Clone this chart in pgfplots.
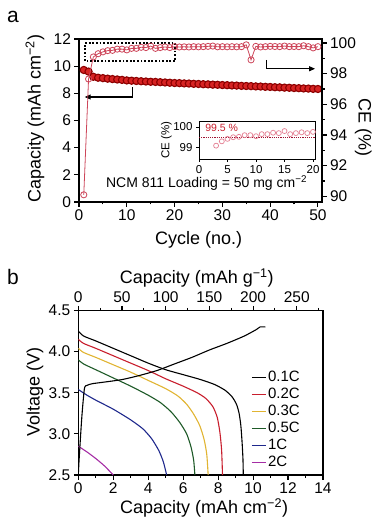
\documentclass[border=0pt]{standalone}
\usepackage{fontspec}
\setmainfont{Liberation Sans}
\usepackage{pgfplots}
\usepackage{pgfplotstable}
\pgfplotsset{compat=1.18}
\usetikzlibrary{arrows.meta}

\definecolor{capfill}{RGB}{215,35,35}
\definecolor{capdraw}{RGB}{140,0,0}
\definecolor{cecol}{RGB}{205,70,90}
\definecolor{insetcol}{RGB}{228,125,145}
\definecolor{dotred}{RGB}{160,20,50}
\definecolor{c02}{RGB}{200,30,45}
\definecolor{c03}{RGB}{225,180,50}
\definecolor{c05}{RGB}{30,90,40}
\definecolor{c1}{RGB}{30,40,140}
\definecolor{c2}{RGB}{165,45,165}

\newcommand{\tickfont}{\fontsize{15.5}{17}\selectfont}
\newcommand{\labfont}{\fontsize{18}{21}\selectfont}

\pgfplotstableread{
cyc cap
1 9.72
2 9.60
3 9.22
4 9.15
5 9.12
6 9.08
7 9.05
8 9.02
9 8.99
10 8.95
11 8.93
12 8.91
13 8.89
14 8.87
15 8.85
16 8.84
17 8.82
18 8.80
19 8.78
20 8.76
21 8.75
22 8.73
23 8.72
24 8.70
25 8.69
26 8.67
27 8.66
28 8.64
29 8.63
30 8.61
31 8.60
32 8.58
33 8.57
34 8.55
35 8.54
36 8.53
37 8.51
38 8.50
39 8.48
40 8.47
41 8.45
42 8.44
43 8.42
44 8.41
45 8.39
46 8.38
47 8.36
48 8.35
49 8.33
50 8.32
}\captable

\pgfplotstableread{
cyc ce
1 90.10
2 97.65
3 99.09
4 99.30
5 99.42
6 99.50
7 99.52
8 99.60
9 99.60
10 99.55
11 99.65
12 99.65
13 99.72
14 99.70
15 99.80
16 99.65
17 99.70
18 99.74
19 99.70
20 99.76
21 99.74
22 99.75
23 99.74
24 99.76
25 99.75
26 99.76
27 99.78
28 99.80
29 99.75
30 99.76
31 99.75
32 99.76
33 99.75
34 99.76
35 99.88
36 98.90
37 99.78
38 99.74
39 99.76
40 99.78
41 99.77
42 99.76
43 99.80
44 99.76
45 99.77
46 99.76
47 99.82
48 99.76
49 99.68
50 99.76
}\cetable

\pgfplotsset{
  /pgf/number format/assume math mode=true,
  myaxis/.style={scale only axis,
    axis line style={line width=1.1pt},
    every tick/.style={black, line width=1.1pt},
    major tick length=4.5pt, minor tick length=2.5pt,
    tick align=outside,
    tick label style={font=\tickfont},
    label style={font=\labfont}},
}

\begin{document}
\begin{tikzpicture}
\useasboundingbox (0pt,0pt) rectangle (378pt,523pt);
\node[font=\fontsize{21}{24}\selectfont] at (13pt,506pt) {a};
\node[font=\fontsize{21}{24}\selectfont] at (13pt,246pt) {b};

% ---------- panel a: capacity ----------
\begin{axis}[myaxis, at={(79pt,321pt)}, anchor=south west,
  width=243pt, height=163pt,
  xmin=0, xmax=50.85, ymin=0, ymax=12,
  xtick={0,10,...,50}, minor xtick={5,15,...,45},
  ytick={0,2,...,12},
  xtick pos=bottom, ytick pos=left,
  xlabel={Cycle (no.)},
  ylabel={Capacity (mAh cm\textsuperscript{−2})},
  xlabel style={at={(axis description cs:0.492,-0.231)}, anchor=center},
  ylabel style={at={(axis description cs:-0.181,0.511)}, anchor=center},
]
\addplot[capdraw, line width=0.6pt, mark=*, mark size=3.6pt,
  mark options={fill=capfill, draw=capdraw, line width=1.1pt}] table[x=cyc, y=cap] {\captable};
\draw[line width=1.8pt, dash pattern=on 1.8pt off 1.8pt] (axis cs:1.3,10.38) rectangle (axis cs:20.1,11.7);
\draw[line width=1.1pt, -{Triangle[length=6pt,width=5pt]}] (axis cs:11.2,8.44) -- (axis cs:11.2,7.73) -- (axis cs:1.2,7.73);
\draw[line width=1.1pt, -{Triangle[length=6pt,width=5pt]}] (axis cs:39.3,10.47) -- (axis cs:39.3,9.81) -- (axis cs:49.4,9.81);
\node[font=\fontsize{14}{16}\selectfont] at (axis description cs:0.525,0.117) {NCM 811 Loading = 50 mg cm\textsuperscript{−2}};
\end{axis}

% ---------- panel a: CE ----------
\begin{axis}[myaxis, at={(79pt,321pt)}, anchor=south west,
  width=243pt, height=163pt,
  xmin=0, xmax=50.85, ymin=89.63, ymax=100.26,
  axis x line=none, axis y line*=right,
  ytick={90,92,...,100}, minor ytick={91,93,...,99},
  ylabel={CE (\%)},
  ylabel style={at={(axis description cs:1.170,0.459)}, anchor=center, rotate=180},
]
\addplot[cecol, line width=0.8pt, mark=o, mark size=3.1pt,
  mark options={line width=0.8pt, fill=white}] table[x=cyc, y=ce] {\cetable};
\end{axis}

% ---------- inset ----------
\begin{axis}[myaxis, at={(199pt,364pt)}, anchor=south west,
  width=116pt, height=38pt,
  xmin=0, xmax=20.35, ymin=98.44, ymax=100.29,
  xtick={0,5,...,20}, ytick={99,100},
  xtick pos=bottom, ytick pos=left,
  axis line style={line width=0.8pt},
  every tick/.style={black, line width=0.8pt},
  major tick length=3pt,
  tick label style={font=\fontsize{11.5}{13}\selectfont},
  ylabel={CE (\%)},
  ylabel style={font=\fontsize{11.5}{13}\selectfont, at={(axis description cs:-0.28,0.5)}, anchor=center},
  axis background/.style={fill=white},
]
\addplot[dotred, line width=1.1pt, dash pattern=on 1.1pt off 1.1pt] coordinates {(0,99.5) (20.35,99.5)};
\addplot[only marks, insetcol, mark=o, mark size=2.5pt, mark options={line width=0.7pt}] table[x=cyc, y=ce] {\cetable};
\node[font=\fontsize{10.5}{12}\selectfont, text=c02, anchor=west] at (axis cs:0.5,99.95) {99.5 \%};
\end{axis}

% ---------- panel b ----------
\begin{axis}[myaxis, at={(78.3pt,48pt)}, anchor=south west,
  width=244.7pt, height=164.5pt,
  xmin=0, xmax=14, ymin=2.5, ymax=4.5,
  xtick={0,2,...,14}, minor xtick={1,3,...,13},
  ytick={2.5,3,...,4.5},
  yticklabel style={/pgf/number format/.cd, fixed, fixed zerofill, precision=1},
  xtick pos=bottom, ytick pos=left,
  xlabel={Capacity (mAh cm\textsuperscript{−2})},
  ylabel={Voltage (V)},
  xlabel style={at={(axis description cs:0.514,-0.202)}, anchor=center},
  ylabel style={at={(axis description cs:-0.177,0.506)}, anchor=center},
  legend style={at={(axis description cs:0.706,0.645)}, anchor=north west,
    draw=none, fill=none, font=\fontsize{15}{17}\selectfont,
    row sep=0pt, inner sep=0pt,
    nodes={inner sep=1.5pt, text height=11pt, text depth=3pt}},
  legend cell align=left,
  legend image code/.code={\draw[#1, line width=1.3pt] (0pt,0pt) -- (14pt,0pt);},
]
\addplot[black, line width=1.1pt, smooth, tension=0.4] coordinates {
(0,4.25) (0.3,4.19) (1,4.13) (2,4.04) (3,3.95) (4,3.86) (5,3.78) (6,3.72) (7,3.66) (7.8,3.60) (8.4,3.53) (8.8,3.45) (9.05,3.36) (9.2,3.25) (9.3,3.10) (9.37,2.9) (9.42,2.7) (9.44,2.5)};
\addlegendentry{0.1C}
\addplot[c02, line width=1.1pt, smooth, tension=0.4] coordinates {
(0,4.15) (0.3,4.10) (1,4.04) (2,3.95) (3,3.86) (4,3.77) (5,3.67) (6,3.58) (6.8,3.50) (7.3,3.43) (7.7,3.33) (7.95,3.20) (8.1,3.02) (8.2,2.8) (8.25,2.5)};
\addlegendentry{0.2C}
\addplot[c03, line width=1.1pt, smooth, tension=0.4] coordinates {
(0,4.04) (0.3,3.99) (1,3.93) (2,3.84) (3,3.75) (4,3.65) (5,3.55) (5.7,3.46) (6.2,3.36) (6.6,3.24) (6.95,3.10) (7.2,2.93) (7.35,2.75) (7.43,2.5)};
\addlegendentry{0.3C}
\addplot[c05, line width=1.1pt, smooth, tension=0.4] coordinates {
(0,3.90) (0.3,3.85) (1,3.78) (2,3.68) (3,3.58) (4,3.47) (4.7,3.38) (5.3,3.27) (5.8,3.14) (6.2,3.00) (6.45,2.84) (6.6,2.68) (6.67,2.5)};
\addlegendentry{0.5C}
\addplot[c1, line width=1.1pt, smooth, tension=0.4] coordinates {
(0,3.54) (0.5,3.47) (1,3.41) (2,3.30) (3,3.17) (3.7,3.06) (4.2,2.94) (4.6,2.80) (4.85,2.67) (5.0,2.55) (5.05,2.5)};
\addlegendentry{1C}
\addplot[c2, line width=1.1pt, smooth, tension=0.4] coordinates {
(0,2.85) (0.5,2.78) (1,2.70) (1.5,2.61) (2.0,2.5)};
\addlegendentry{2C}
\addplot[black, line width=1.1pt, smooth, tension=0.4, forget plot] coordinates {
(0,2.5) (0.05,2.7) (0.2,3.2) (0.35,3.55) (0.5,3.59) (0.8,3.61) (1.5,3.63) (2.5,3.66) (3.5,3.71) (4.5,3.77) (5.5,3.85) (6.5,3.93) (7.5,4.02) (8.5,4.10) (9.5,4.19) (10.2,4.27) (10.4,4.30) (10.7,4.30)};
\end{axis}

\begin{axis}[myaxis, at={(78.3pt,48pt)}, anchor=south west,
  width=244.7pt, height=164.5pt,
  xmin=0, xmax=280, ymin=0, ymax=1,
  axis y line=none, axis x line*=top,
  xtick={0,50,...,250}, minor xtick={25,75,...,275},
  xlabel={Capacity (mAh g\textsuperscript{−1})},
  xlabel style={at={(axis description cs:0.484,1.196)}, anchor=center},
]
\end{axis}
\end{tikzpicture}
\end{document}
